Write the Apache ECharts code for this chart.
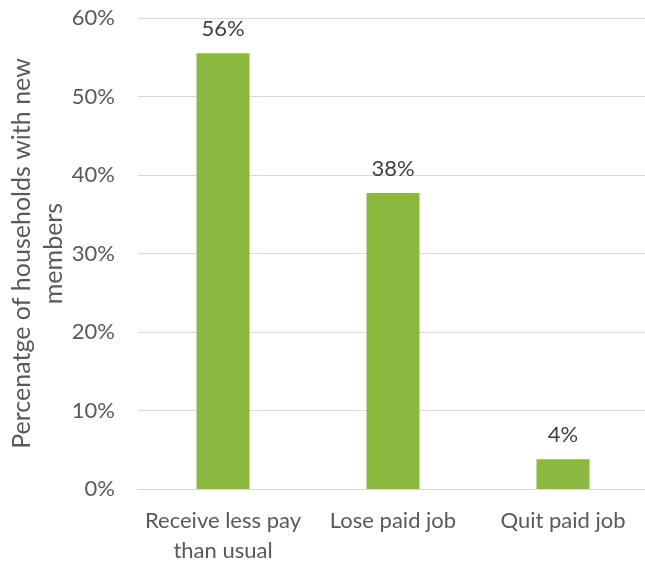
<!DOCTYPE html>
<html>
<head>
<meta charset="utf-8">
<script src="https://cdn.jsdelivr.net/npm/echarts@6/dist/echarts.min.js"></script>
<style>
  html, body { margin: 0; padding: 0; background: #ffffff; }
  #chart { width: 645px; height: 565px; }
</style>
</head>
<body>
<div id="chart"></div>
<script>
// Share of households with new members, by change in paid work
const categories = ['Receive less pay\nthan usual', 'Lose paid job', 'Quit paid job'];
const shares = [55.5, 37.7, 3.8];
const yTicks = { min: 0, max: 60, interval: 10 };
const yTitle = 'Percenatge of households with new\nmembers';

const FONT = 'Lato, "Open Sans", sans-serif';

const chart = echarts.init(document.getElementById('chart'), null, { renderer: 'canvas' });
chart.setOption({
  animation: false,
  backgroundColor: '#ffffff',
  grid: {
    left: 138, right: -3, top: 18, bottom: 76,
    containLabel: false, outerBoundsMode: 'none'
  },
  xAxis: {
    type: 'category',
    data: categories,
    axisLine: { show: true, lineStyle: { color: '#d9d9d9', width: 1 } },
    axisTick: { show: false },
    axisLabel: {
      color: '#595959', fontFamily: FONT, fontSize: 22,
      margin: 17, lineHeight: 30, interval: 0
    }
  },
  yAxis: {
    type: 'value',
    min: yTicks.min, max: yTicks.max, interval: yTicks.interval,
    name: yTitle,
    nameLocation: 'middle',
    nameRotate: 90,
    nameGap: 68,
    nameMoveOverlap: false,
    nameTextStyle: { color: '#595959', fontFamily: FONT, fontSize: 25, lineHeight: 32 },
    axisLine: { show: false },
    axisTick: { show: false },
    splitLine: { lineStyle: { color: '#d9d9d9', width: 1 } },
    axisLabel: {
      color: '#595959', fontFamily: FONT, fontSize: 22, margin: 23,
      formatter: v => v + '%'
    }
  },
  series: [{
    type: 'bar',
    data: shares,
    barWidth: 53,
    itemStyle: { color: '#8bb940' },
    label: {
      show: true, position: 'top', distance: 13,
      color: '#404040', fontFamily: FONT, fontSize: 22,
      formatter: p => Math.round(p.value) + '%'
    }
  }]
});
</script>
</body>
</html>
